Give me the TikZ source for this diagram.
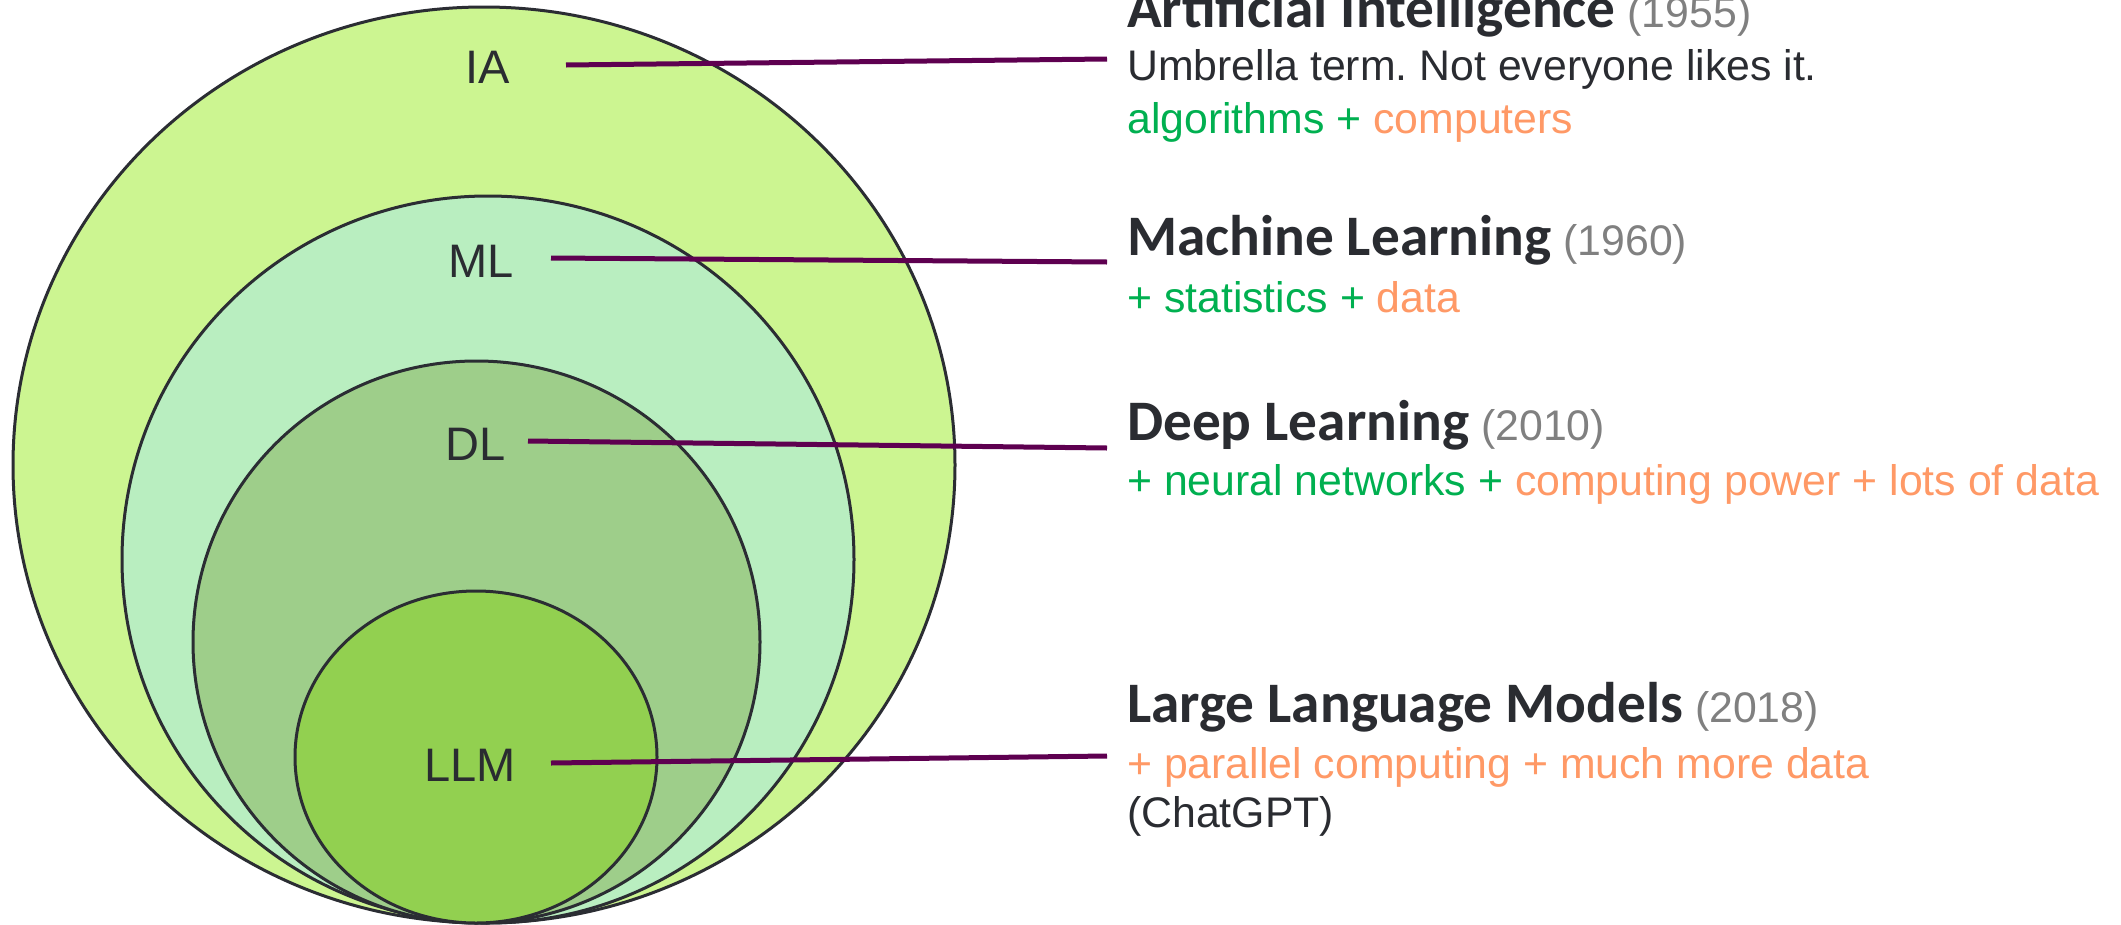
\documentclass[tikz,border=0pt]{standalone}
\usepackage{fontspec}
\setmainfont{Liberation Sans}
\newfontfamily\titlefont{Carlito}
\usetikzlibrary{shapes.geometric}
\frenchspacing
\definecolor{iafill}{HTML}{CCF591}
\definecolor{mlfill}{HTML}{B9EEC0}
\definecolor{dlfill}{HTML}{9ECE8A}
\definecolor{llmfill}{HTML}{92D050}
\definecolor{edgec}{HTML}{2B2D33}
\definecolor{linkc}{HTML}{5E0050}
\definecolor{txt}{HTML}{2A2C31}
\definecolor{yr}{HTML}{808080}
\definecolor{grn}{HTML}{00B050}
\definecolor{org}{HTML}{FF9966}
\newcommand\yearof[1]{\hspace{12pt}{\rmfamily\mdseries\fontsize{42.8}{50}\selectfont\color{yr}#1}}
\begin{document}
\begin{tikzpicture}[x=1pt,y=-1pt,
 ell/.style={ellipse, draw=edgec, line width=3pt, inner sep=0pt},
 lab/.style={text=txt, font=\fontsize{47}{56}\selectfont, inner sep=0pt},
 ttl/.style={anchor=base west, inner sep=0pt, text=txt, font=\titlefont\bfseries\fontsize{57.3}{66}\selectfont},
 body/.style={anchor=base west, inner sep=0pt, font=\fontsize{42.8}{50}\selectfont\frenchspacing},
 linkline/.style={draw=linkc, line width=5pt}
]
\useasboundingbox[fill=white] (0,0) rectangle (2121,924);
% nested sets
\node[ell, fill=iafill, minimum width=942pt, minimum height=916pt] (ia) at (484,465) {};
\node[ell, fill=mlfill, minimum width=732pt, minimum height=727pt] (ml) at (488,559.5) {};
\node[ell, fill=dlfill, minimum width=567pt, minimum height=562pt] (dl) at (476.5,642) {};
\node[ell, fill=llmfill, minimum width=362pt, minimum height=332pt] (llm) at (476,757) {};
% labels
\node[lab] (iaL) at (488,67) {IA};
\node[lab] (mlL) at (481,261) {ML};
\node[lab] (dlL) at (476,444) {DL};
\node[lab] (llmL) at (470,765) {LLM};
% texts
\node[ttl] (iaT) at (1127,27) {Artificial Intelligence\yearof{(1955)}};
\node[body, text=txt] (iaB1) at (1127,80) {Umbrella term. Not everyone likes it.};
\node[body] (iaB2) at (1127,133) {\color{grn}algorithms + \color{org}computers};
\node[ttl] (mlT) at (1127,255) {Machine Learning\yearof{(1960)}};
\node[body] (mlB) at (1127,312) {\color{grn}+ statistics + \color{org}data};
\node[ttl] (dlT) at (1127,440) {Deep Learning\yearof{(2010)}};
\node[body] (dlB) at (1127,495) {\color{grn}+ neural networks + \color{org}computing power + lots of data};
\node[ttl] (llmT) at (1127,722) {Large Language Models\yearof{(2018)}};
\node[body] (llmB1) at (1127,778) {\color{org}+ parallel computing + much more data};
\node[body, text=txt] (llmB2) at (1127,827) {(ChatGPT)};
% connectors
\coordinate (iaS) at (566,65);  \coordinate (iaE) at (1107,59);
\coordinate (mlS) at (551,258); \coordinate (mlE) at (1107,262);
\coordinate (dlS) at (528,441); \coordinate (dlE) at (1107,448);
\coordinate (llmS) at (551,763); \coordinate (llmE) at (1107,756);
\draw[linkline] (iaS) -- (iaE);
\draw[linkline] (mlS) -- (mlE);
\draw[linkline] (dlS) -- (dlE);
\draw[linkline] (llmS) -- (llmE);
\end{tikzpicture}
\end{document}
